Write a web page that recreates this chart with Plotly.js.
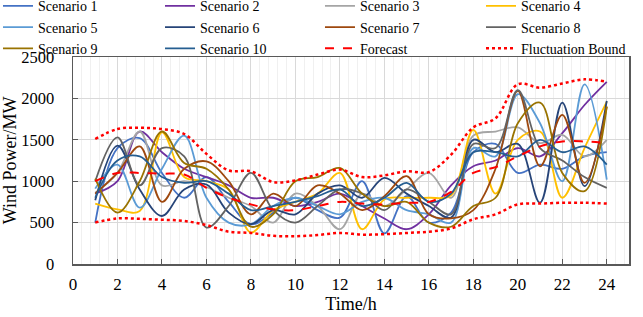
<!DOCTYPE html>
<html>
<head>
<meta charset="utf-8">
<script src="https://cdn.plot.ly/plotly-3.0.1.min.js"></script>
<style>html,body{margin:0;padding:0;background:#fff;}#chart{width:643px;height:317px;}</style>
</head>
<body>
<div id="chart"></div>
<script>
const hours = [1,2,3,4,5,6,7,8,9,10,11,12,13,14,15,16,17,18,19,20,21,22,23,24];
const seriesNames = ["Scenario 1","Scenario 2","Scenario 3","Scenario 4","Scenario 5","Scenario 6","Scenario 7","Scenario 8","Scenario 9","Scenario 10"];
const scenario1  = [500,1400,1520,1100,800,1050,750,480,620,800,650,560,1000,370,820,500,620,1350,1450,1100,1200,1150,1300,1350];
const scenario2  = [850,1000,1600,1350,1150,1050,950,800,800,700,750,850,700,550,420,600,950,1180,1250,1400,1300,1580,1920,2200];
const scenario3  = [860,1100,1600,950,1000,930,800,700,500,850,700,420,850,700,900,1100,800,1550,1600,1650,1460,1560,1300,1500];
const scenario4  = [730,660,640,1590,1050,1000,900,380,650,750,850,1100,420,780,800,800,830,1620,850,1500,1600,800,1400,1960];
const scenario5  = [910,1200,680,1150,1550,800,500,480,700,800,700,600,750,800,650,600,500,1400,1300,2050,1700,1000,2170,1020];
const scenario6  = [770,1430,900,580,900,960,620,480,650,600,850,950,800,1040,850,700,560,1500,1350,1450,740,1950,940,1970];
const scenario7  = [850,1100,1420,750,1150,1240,1000,600,850,700,950,850,650,820,1060,600,550,650,1150,2090,1180,1800,980,1900];
const scenario8  = [1000,1530,950,1400,1300,440,700,1100,650,500,700,900,850,650,900,750,600,1450,1400,2100,1400,1250,1050,920];
const scenario9  = [1030,620,1000,1600,1220,1150,900,450,600,1000,1050,1160,850,700,750,500,450,700,800,1700,1950,1100,880,1900];
const scenario10 = [800,1250,1300,1050,980,1000,850,650,700,750,820,900,700,800,980,750,850,1350,1350,1300,1500,1350,1420,1200];
const forecast   = [1000,1100,1100,1090,1080,920,800,720,660,650,700,750,730,720,740,750,870,1100,1170,1300,1420,1480,1480,1460];
const upperBound = [1510,1630,1645,1630,1570,1330,1130,1120,990,1010,1080,1140,1050,1070,1120,1110,1320,1650,1760,2170,2130,2180,2230,2200];
const lowerBound = [500,550,545,535,520,470,390,375,340,335,350,375,355,360,375,390,430,540,600,720,730,740,740,730];
const scenarioColors = ["#4472C4","#7030A0","#A5A5A5","#FFC000","#5B9BD5","#264478","#9E480E","#636363","#997300","#255E91"];

const legendIds = ["legend","legend2","legend3","legend4"];
const scenarios = [scenario1,scenario2,scenario3,scenario4,scenario5,scenario6,scenario7,scenario8,scenario9,scenario10];
const traces = scenarios.map((ys, i) => ({
  x: hours, y: ys, name: seriesNames[i], type: "scatter", mode: "lines", legend: legendIds[i % 4],
  line: {color: scenarioColors[i], width: 1.8, shape: "spline", smoothing: 1}
}));
traces.push({x: hours, y: forecast, name: "Forecast", type: "scatter", mode: "lines", legend: "legend3",
  line: {color: "#FF0000", width: 2, dash: "dash", shape: "spline", smoothing: 1}});
traces.push({x: hours, y: upperBound, name: "Fluctuation Bound", type: "scatter", mode: "lines", legend: "legend4",
  line: {color: "#FF0000", width: 2.5, dash: "dot", shape: "spline", smoothing: 1}});
traces.push({x: hours, y: lowerBound, name: "Fluctuation Bound", type: "scatter", mode: "lines", showlegend: false,
  line: {color: "#FF0000", width: 2.5, dash: "dot", shape: "spline", smoothing: 1}});

const font = {family: "'Liberation Serif', 'Times New Roman', serif", color: "#000"};
const legendX = [-0.1349, 0.1565, 0.4442, 0.7338];
function mkLegend(x) {
  return {orientation: "v", x: x, y: 1.322, xanchor: "left", yanchor: "top",
    font: Object.assign({size: 14}, font), tracegroupgap: 0, itemwidth: 30,
    bgcolor: "rgba(0,0,0,0)", borderwidth: 0};
}
const layout = {
  width: 643, height: 317,
  margin: {l: 73, r: 14, t: 57, b: 53, autoexpand: false},
  paper_bgcolor: "#fff", plot_bgcolor: "#fff",
  font: Object.assign({size: 17}, font),
  showlegend: true,
  legend: mkLegend(legendX[0]), legend2: mkLegend(legendX[1]),
  legend3: mkLegend(legendX[2]), legend4: mkLegend(legendX[3]),
  xaxis: {
    range: [0, 25], tick0: 0, dtick: 2, ticks: "inside", ticklen: 5, tickcolor: "#595959",
    showline: true, linecolor: "#595959", linewidth: 1.5, mirror: true,
    showgrid: true, gridcolor: "#d9d9d9", gridwidth: 1, zeroline: false,
    minor: {tick0: 0, dtick: 0.4, showgrid: true, gridcolor: "#f0f0f0", gridwidth: 1},
    tickfont: Object.assign({size: 17}, font), ticklabelstandoff: 4,
    title: {text: "Time/h", font: Object.assign({size: 18}, font), standoff: 0}
  },
  yaxis: {
    range: [0, 2500], dtick: 500, ticks: "inside", ticklen: 5, tickcolor: "#595959",
    showline: true, linecolor: "#595959", linewidth: 1.5, mirror: true,
    showgrid: true, gridcolor: "#d9d9d9", gridwidth: 1, zeroline: false,
    tickfont: Object.assign({size: 16.5}, font), ticklabelstandoff: 14,
    title: {text: "Wind Power/MW", font: Object.assign({size: 18}, font), standoff: 4}
  }
};
Plotly.newPlot("chart", traces, layout, {displayModeBar: false, staticPlot: true});
</script>
</body>
</html>
